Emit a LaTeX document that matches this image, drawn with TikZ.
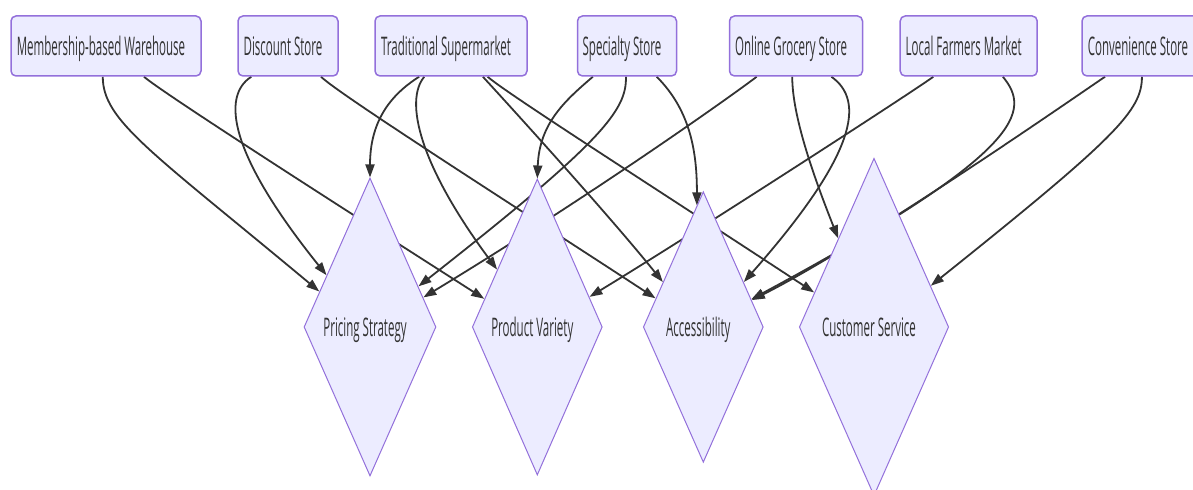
\documentclass[tikz,border=0pt]{standalone}
\usepackage{fontspec}
\setmainfont[FakeStretch=0.45]{Open Sans}
\usetikzlibrary{shapes.geometric,arrows.meta,backgrounds}

\definecolor{nodefill}{HTML}{ECECFF}
\definecolor{nodeline}{HTML}{9370DB}
\definecolor{linkcol}{HTML}{333333}

\begin{document}
\begin{tikzpicture}[x=0.5pt,y=-0.5pt,
store/.style={draw=nodeline,fill=nodefill,rounded corners=2.5pt,line width=0.75pt,minimum height=30pt,inner sep=0pt,text height=9.7pt,text depth=0pt,text=linkcol,font=\fontsize{12.8}{15}\selectfont,execute at end node={\kern5pt}},
factor/.style={diamond,draw=nodeline,fill=nodefill,line width=0.5pt,inner sep=0pt,text height=9.7pt,text depth=0pt,text=linkcol,font=\fontsize{12.8}{15}\selectfont,execute at end node={\kern5pt}},
link/.style={draw=linkcol,line width=0.9pt,-{Triangle[length=6.5pt,width=4.5pt]}}]
\useasboundingbox (0,0) rectangle (1193,490);

% store types
\draw (106,46) node[store,minimum width=95pt] (mbw) {Membership-based Warehouse};
\draw (288,46) node[store,minimum width=50pt] (ds) {Discount Store};
\draw (451,46) node[store,minimum width=76pt] (ts) {Traditional Supermarket};
\draw (627,46) node[store,minimum width=49.5pt] (ss) {Specialty Store};
\draw (796,46) node[store,minimum width=66.5pt] (ogs) {Online Grocery Store};
\draw (968.7,46) node[store,minimum width=68.5pt] (lfm) {Local Farmers Market};
\draw (1143,46) node[store,minimum width=61pt] (cs) {Convenience Store};

% factors
\draw (370,327) node[factor,minimum width=66pt,minimum height=149pt] (ps) {Pricing Strategy};
\draw (537.3,327) node[factor,minimum width=65pt,minimum height=148pt] (pv) {Product Variety};
\draw (703.3,327) node[factor,minimum width=60pt,minimum height=135.3pt] (ac) {Accessibility};
\draw (874,327) node[factor,minimum width=74.7pt,minimum height=168.7pt] (csv) {Customer Service};

\begin{scope}[on background layer]
\draw[link] (mbw.-96) .. controls +(0,44) and +(-168,-140) .. (ps.145);
\draw[link] (mbw.-39) .. controls +(22,19) and +(-81,-52) .. (pv.152);
\draw[link] (ds.-140) .. controls +(-30,19) and +(-98,-122) .. (ps.130);
\draw[link] (ds.-43) .. controls +(20,19) and +(-133,-87) .. (ac.149);
\draw[link] (ts.-136) .. controls +(-30,19) and +(0,-55) .. (ps.north);
\draw[link] (ts.-131) .. controls +(-20,24) and +(-78,-105) .. (pv.125);
\draw[link] (ts.-44) .. controls +(13,14) and +(-58,-72) .. (ac.132);
\draw[link] (ts.-40) .. controls +(18,16) and +(-160,-105) .. (csv.150);
\draw[link] (ss.-138) .. controls +(-28,24) and +(2,-55) .. (pv.north);
\draw[link] (ss.-92) .. controls +(1,34) and +(182,-143) .. (ps.40);
\draw[link] (ss.-46) .. controls +(34,34) and +(0,-53) .. (ac.93);
\draw[link] (ogs.-142) .. controls +(-18,14) and +(173,-105) .. (ps.29);
\draw[link] (ogs.-97) .. controls +(0,39) and +(-25,-63) .. (csv.112);
\draw[link] (ogs.-41) .. controls +(34,24) and +(113,-128) .. (ac.48);
\draw[link] (lfm.-139) .. controls +(-19,14) and +(107,-65) .. (pv.30);
\draw[link] (lfm.-42) .. controls +(28,34) and +(275,-148) .. (ac.30);
\draw[link] (cs.-141) .. controls +(-21,14) and +(115,-58) .. (ac.29);
\draw[link] (cs.-92) .. controls +(0,34) and +(185,-148) .. (csv.36);
\end{scope}

\end{tikzpicture}
\end{document}
